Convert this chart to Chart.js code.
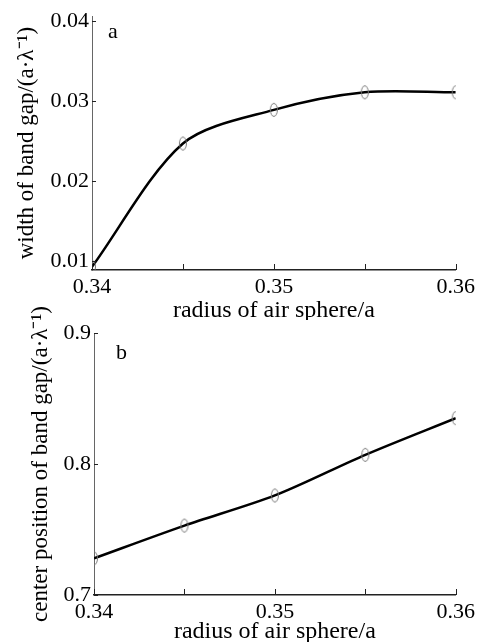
<!DOCTYPE html>
<html>
<head>
<meta charset="utf-8">
<script src="https://cdn.jsdelivr.net/npm/chart.js@4"></script>
<style>
  body { margin: 0; background: #fff; }
  .page { position: relative; width: 479px; height: 642px; }
  .box { position: absolute; left: 0; width: 479px; }
</style>
</head>
<body>
<div class="page">
  <div class="box" style="top:0;height:320px"><canvas id="chartA"></canvas></div>
  <div class="box" style="top:290px;height:352px"><canvas id="chartB"></canvas></div>
</div>
<script>
// Data
const radius = [0.34, 0.345, 0.35, 0.355, 0.36];
const gapWidth = [0.0093, 0.0247, 0.0289, 0.0311, 0.0311];
const gapCenter = [0.728, 0.753, 0.776, 0.807, 0.835];

// Tick labels
const radiusTicks = [0.34, 0.35, 0.36];
const radiusMinor = [0.345, 0.355];
const widthTicks = [0.01, 0.02, 0.03, 0.04];
const centerTicks = [0.7, 0.8, 0.9];

const serif = "'Liberation Serif', 'Times New Roman', serif";

// open ellipse marker
function ellipseMarker() {
  const c = document.createElement("canvas");
  c.width = 10;
  c.height = 16;
  const g = c.getContext("2d");
  g.strokeStyle = "#777";
  g.lineWidth = 1;
  g.beginPath();
  g.ellipse(5, 8, 3.5, 6.5, 0, 0, Math.PI * 2);
  g.stroke();
  return c;
}

// small inward ticks + panel letter
const extras = {
  id: "extras",
  afterDraw(chart, args, opts) {
    const ctx = chart.ctx;
    const x = chart.scales.x, y = chart.scales.y;
    const area = chart.chartArea;
    ctx.save();
    ctx.strokeStyle = "#222";
    ctx.lineWidth = 1;
    radiusTicks.concat(radiusMinor).forEach(v => {
      const px = Math.round(x.getPixelForValue(v)) + 0.5;
      ctx.beginPath();
      ctx.moveTo(px, area.bottom);
      ctx.lineTo(px, area.bottom - 6);
      ctx.stroke();
    });
    opts.yTicks.forEach(v => {
      const py = Math.round(y.getPixelForValue(v)) + 0.5;
      ctx.beginPath();
      ctx.moveTo(area.left, py);
      ctx.lineTo(area.left + 4, py);
      ctx.stroke();
    });
    ctx.fillStyle = "#000";
    ctx.font = "22px " + serif;
    ctx.textBaseline = "middle";
    ctx.fillText(opts.letter, area.left + opts.lx, area.top + opts.ly);
    ctx.restore();
  }
};

function makeChart(id, values, yTicks, yMin, yMax, yTitle, digits, sizes, letter) {
  return new Chart(document.getElementById(id), {
    type: "line",
    data: {
      datasets: [{
        data: radius.map((r, i) => ({ x: r, y: values[i] })),
        borderColor: "#000",
        borderWidth: 2.5,
        tension: 0.3,
        pointStyle: ellipseMarker(),
        pointRadius: 6,
        fill: false
      }]
    },
    options: {
      responsive: true,
      maintainAspectRatio: false,
      animation: false,
      layout: { padding: { top: sizes.top, right: sizes.right, left: 0, bottom: 0 } },
      plugins: {
        legend: { display: false },
        tooltip: { enabled: false },
        extras: { yTicks: yTicks, letter: letter.t, lx: letter.x, ly: letter.y }
      },
      scales: {
        x: {
          type: "linear",
          min: 0.34,
          max: 0.36,
          afterBuildTicks: s => { s.ticks = radiusTicks.map(v => ({ value: v })); },
          afterFit: s => { s.height = sizes.xh; },
          ticks: {
            color: "#000",
            font: { family: serif, size: 22 },
            padding: 4,
            maxRotation: 0,
            callback: v => v.toFixed(2)
          },
          grid: { display: false, drawTicks: false },
          border: { color: "#222", width: 1.5 },
          title: {
            display: true,
            text: "radius of air sphere/a",
            color: "#000",
            font: { family: serif, size: 24 },
            padding: { top: 0, bottom: sizes.xtp }
          }
        },
        y: {
          min: yMin,
          max: yMax,
          afterBuildTicks: s => { s.ticks = yTicks.map(v => ({ value: v })); },
          afterFit: s => { s.width = sizes.yw; },
          ticks: {
            color: "#000",
            font: { family: serif, size: 22 },
            padding: 3,
            callback: v => v.toFixed(digits)
          },
          grid: { display: false, drawTicks: false },
          border: { color: "#666", width: 1 },
          title: {
            display: true,
            text: yTitle,
            color: "#000",
            font: { family: serif, size: 23 },
            padding: { top: sizes.tp, bottom: 0 }
          }
        }
      }
    },
    plugins: [extras]
  });
}

makeChart("chartA", gapWidth, widthTicks, 0.0089, 0.0406,
  "width of band gap/(a·λ⁻¹)", 2,
  { top: 15, right: 18, xh: 50, yw: 92, tp: 13, xtp: -5 },
  { t: "a", x: 16, y: 16 });

makeChart("chartB", gapCenter, centerTicks, 0.7, 0.9,
  "center position of band gap/(a·λ⁻¹)", 1,
  { top: 43, right: 17, xh: 47, yw: 94, tp: 27, xtp: -4 },
  { t: "b", x: 22, y: 20 });
</script>
</body>
</html>
